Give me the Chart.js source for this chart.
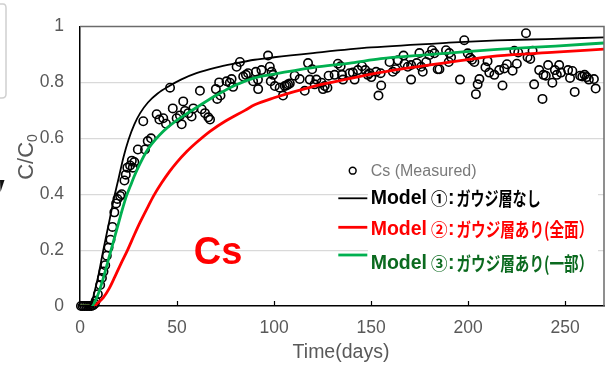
<!DOCTYPE html>
<html>
<head>
<meta charset="utf-8">
<script src="https://cdn.jsdelivr.net/npm/chart.js@4.4.1/dist/chart.umd.min.js"></script>
<style>
  html, body { margin: 0; padding: 0; background: #fff; }
  canvas { display: block; }
</style>
</head>
<body>
<canvas id="c" width="614" height="368"></canvas>
<script>
// Measured Cs breakthrough: elapsed time (days) and relative concentration C/C0
const measDays = [
  0.5, 1.4, 2.3, 3.2, 4.1, 5.0, 5.9, 6.8, 7.6,
  8.1, 9.2, 10.4, 11.3, 12.1, 13.0, 13.8, 14.7, 15.7, 16.7, 17.7, 18.6, 19.3, 20.7, 21.5,
  22.9, 23.6, 24.4, 25.8, 27.2, 26.7, 28.0, 29.8, 33.5, 34.9, 36.6, 32.6,
  46.4, 61.8, 47.8, 53.2, 39.5, 40.9, 42.9, 44.3, 49.8, 51.5, 54.1, 55.8, 57.5, 58.4, 52.4,
  62.7, 64.4, 66.1, 67.0, 70.0, 70.7, 72.4, 71.7, 75.5, 77.2, 78.9, 78.1, 80.7, 82.4, 84.1,
  85.5, 86.6, 89.2, 90.6, 91.8,
  96.9, 93.5, 91.7, 97.8, 98.7, 99.5, 98.3, 100.4, 102.9, 104.6, 105.5, 106.4, 107.2, 108.1,
  110.6, 113.2, 117.5, 119.6, 115.8, 118.4, 120.9, 121.8, 124.4, 126.1, 125.2, 127.5, 128.1,
  131.2, 132.9, 134.3, 135.0, 135.5, 138.9, 140.6, 141.5, 143.2, 145.3, 147.0, 148.3, 150.1,
  149.2, 152.6, 153.8, 155.2, 154.9,
  159.5, 161.2, 162.6, 163.8, 166.7, 167.2, 168.9, 170.6, 170.6, 173.5, 174.9, 175.8, 176.6,
  178.4, 180.0, 181.4, 182.6, 184.3, 185.2, 188.6, 190.3, 190.0, 191.2, 195.8, 198.0, 199.8,
  201.0, 202.0, 203.2, 204.0, 204.9, 205.8, 208.9, 210.0, 210.9, 213.5, 216.0,
  217.7, 218.6, 220.0, 222.9, 223.8, 225.1, 225.8, 229.8, 230.6, 232.0, 233.2, 234.0, 236.6,
  238.3, 238.8, 240.0, 241.2, 243.4, 244.7, 245.7, 246.9, 247.8, 251.5, 252.5, 253.7, 254.9,
  257.7, 258.8, 260.0, 261.1, 262.2, 264.8, 265.7
];
const measC = [
  0, 0, 0, 0, 0, 0, 0, 0.003, 0.008,
  0.019, 0.042, 0.075, 0.100, 0.123, 0.146, 0.180, 0.209, 0.237, 0.283, 0.335, 0.367, 0.383, 0.394, 0.400,
  0.449, 0.470, 0.495, 0.503, 0.495, 0.520, 0.515, 0.560, 0.560, 0.590, 0.600, 0.661,
  0.781, 0.770, 0.707, 0.732, 0.686, 0.667, 0.672, 0.652, 0.672, 0.682, 0.698, 0.690, 0.678, 0.707, 0.650,
  0.704, 0.690, 0.675, 0.667, 0.776, 0.741, 0.753, 0.800, 0.804, 0.799, 0.784, 0.812, 0.856, 0.873, 0.821,
  0.827, 0.833, 0.804, 0.838, 0.776,
  0.896, 0.844, 0.810, 0.856, 0.838, 0.827, 0.804, 0.787, 0.781, 0.753, 0.787, 0.789, 0.793, 0.796,
  0.824, 0.812, 0.869, 0.847, 0.770, 0.810, 0.793, 0.810, 0.799, 0.787, 0.776, 0.781, 0.824,
  0.827, 0.867, 0.858, 0.827, 0.810, 0.833, 0.835, 0.810, 0.844, 0.858, 0.844, 0.827, 0.819,
  0.833, 0.838, 0.753, 0.789, 0.833,
  0.873, 0.838, 0.847, 0.879, 0.896, 0.867, 0.856, 0.862, 0.810, 0.869, 0.905, 0.856, 0.838,
  0.873, 0.898, 0.915, 0.904, 0.847, 0.847, 0.915, 0.905, 0.873, 0.890, 0.810, 0.951, 0.904,
  0.888, 0.881, 0.873, 0.758, 0.793, 0.812, 0.854, 0.876, 0.835, 0.827, 0.844,
  0.789, 0.850, 0.865, 0.842, 0.913, 0.867, 0.907, 0.976, 0.890, 0.884, 0.913, 0.793, 0.844,
  0.741, 0.827, 0.824, 0.862, 0.799, 0.844, 0.827, 0.862, 0.835, 0.844, 0.816, 0.841, 0.766,
  0.824, 0.821, 0.827, 0.819, 0.810, 0.812, 0.778
];

// Model 1: no gouge layer
const model1Days = [0, 4.5, 6, 7, 9.5, 12, 15, 17.5, 20, 22.5, 25, 28, 31, 35, 40, 46, 52, 60, 70, 80, 90, 100, 120, 150, 190, 215, 240, 270];
const model1C    = [0, 0, 0.01, 0.037, 0.11, 0.2, 0.3, 0.385, 0.46, 0.535, 0.595, 0.65, 0.69, 0.728, 0.76, 0.787, 0.81, 0.833, 0.853, 0.868, 0.881, 0.89, 0.905, 0.925, 0.942, 0.95, 0.955, 0.961];

// Model 2: gouge layer over the whole face
const model2Days = [0, 7, 9, 12, 15, 18, 21, 24.5, 28, 31, 35, 38, 42, 46, 50, 55, 60, 67, 75, 85, 90, 100, 120, 140, 155, 190, 215, 245, 270];
const model2C    = [0, 0, 0.01, 0.03, 0.062, 0.105, 0.15, 0.2, 0.255, 0.3, 0.355, 0.395, 0.44, 0.48, 0.515, 0.553, 0.585, 0.625, 0.662, 0.7, 0.72, 0.745, 0.785, 0.815, 0.836, 0.872, 0.895, 0.908, 0.919];

// Model 3: gouge layer over part of the face
const model3Days = [0, 6, 8, 10, 12, 14, 16, 18, 20, 22, 24, 26, 28, 31, 34, 37, 41, 45, 50, 55, 60, 70, 80, 90, 100, 120, 140, 155, 175, 190, 215, 245, 270];
const model3C    = [0, 0, 0.02, 0.055, 0.1, 0.15, 0.2, 0.25, 0.3, 0.35, 0.395, 0.43, 0.465, 0.51, 0.55, 0.58, 0.612, 0.638, 0.665, 0.688, 0.71, 0.753, 0.79, 0.816, 0.83, 0.853, 0.87, 0.885, 0.897, 0.905, 0.918, 0.93, 0.941];

const xTicks = [0, 50, 100, 150, 200, 250];
const yTicks = [0, 0.2, 0.4, 0.6, 0.8, 1];
const yTickLabels = ['0', '0.2', '0.4', '0.6', '0.8', '1'];

const seriesLabels = [
  'Cs (Measured)',
  'Model ①: ガウジ層なし',
  'Model ②: ガウジ層あり(全面）',
  'Model ③: ガウジ層あり(一部）'
];

const toPoints = (xs, ys) => xs.map((x, i) => ({ x, y: ys[i] }));

const LATIN = "'Liberation Sans', Arial, sans-serif";
const CJK = "'Noto Sans CJK JP', sans-serif";
const AXIS_GREY = '#595959';

// Key drawn inside the plot area, built from the dataset labels and colours
function drawKey(chart) {
  const ctx = chart.ctx;
  const ds = chart.data.datasets;
  ctx.save();
  ctx.textBaseline = 'middle';
  ctx.textAlign = 'left';

  // measured marker + label
  ctx.beginPath();
  ctx.arc(352.7, 170.7, 3.4, 0, Math.PI * 2);
  ctx.lineWidth = 1.5;
  ctx.strokeStyle = '#000';
  ctx.stroke();
  ctx.fillStyle = ds[0].keyTextColor;
  ctx.font = '16px ' + LATIN;
  ctx.fillText(ds[0].label, 370.7, 171.5);

  const rows = [
    { line: 198.3, text: 198.8 },
    { line: 227.3, text: 230.0 },
    { line: 255.0, text: 264.0 }
  ];
  const ends = [540.7, 593.3, 593.3];
  for (let i = 1; i <= 3; i++) {
    const d = ds[i];
    const r = rows[i - 1];
    ctx.beginPath();
    ctx.moveTo(338.3, r.line);
    ctx.lineTo(367.3, r.line);
    ctx.lineWidth = d.borderWidth;
    ctx.strokeStyle = d.borderColor;
    ctx.stroke();

    const m = d.label.match(/^(Model )(.)(:) (.*)$/);
    ctx.fillStyle = d.keyTextColor;
    let cx = 370.7;
    ctx.font = 'bold 19.5px ' + LATIN;
    ctx.fillText(m[1], cx, r.text);
    cx += ctx.measureText(m[1]).width - 1.5;
    ctx.font = 'bold 16.5px ' + CJK;
    ctx.fillText(m[2], cx, r.text);
    cx += ctx.measureText(m[2]).width + 0.5;
    ctx.font = 'bold 19.5px ' + LATIN;
    ctx.fillText(m[3], cx, r.text);
    cx += ctx.measureText(m[3]).width + 2;
    ctx.font = 'bold 19px ' + CJK;
    const w = ctx.measureText(m[4]).width;
    const sx = (ends[i - 1] - cx) / w;
    ctx.save();
    ctx.translate(cx, r.text);
    ctx.scale(sx, 1);
    ctx.fillText(m[4], 0, 0);
    ctx.restore();
  }
  ctx.restore();
}

const decor = {
  id: 'decor',
  beforeDatasetsDraw(chart) {
    const ctx = chart.ctx;
    // white panel behind the key hides the grid lines there
    ctx.save();
    ctx.fillStyle = '#fff';
    ctx.fillRect(368, 158, 230, 126);
    ctx.restore();
  },
  afterDatasetsDraw(chart) {
    const { ctx, chartArea: a, scales } = chart;
    ctx.save();
    // top and right frame
    ctx.strokeStyle = '#6b6b6b';
    ctx.lineWidth = 1.5;
    ctx.beginPath();
    ctx.moveTo(a.left, a.top);
    ctx.lineTo(a.right, a.top);
    ctx.lineTo(a.right, a.bottom);
    ctx.stroke();
    // inward tick marks on the time axis
    ctx.strokeStyle = '#000';
    ctx.lineWidth = 1.2;
    xTicks.forEach(v => {
      if (v === 0) return;
      const px = Math.round(scales.x.getPixelForValue(v)) + 0.5;
      ctx.beginPath();
      ctx.moveTo(px, a.bottom);
      ctx.lineTo(px, a.bottom - 5);
      ctx.stroke();
    });
    ctx.restore();
  },
  afterDraw(chart) {
    const { ctx } = chart;
    drawKey(chart);
    ctx.save();
    // axis titles
    ctx.fillStyle = AXIS_GREY;
    ctx.textBaseline = 'middle';
    ctx.textAlign = 'center';
    ctx.font = '19.5px ' + LATIN;
    ctx.fillText('Time(days)', 341, 353);

    ctx.save();
    ctx.translate(27, 157);
    ctx.rotate(-Math.PI / 2);
    ctx.font = '22px ' + LATIN;
    const main = 'C/C';
    const wMain = ctx.measureText(main).width;
    ctx.font = '14px ' + LATIN;
    const wSub = ctx.measureText('0').width;
    const start = -(wMain + wSub) / 2;
    ctx.textAlign = 'left';
    ctx.font = '22px ' + LATIN;
    ctx.fillText(main, start, 0);
    ctx.font = '14px ' + LATIN;
    ctx.fillText('0', start + wMain, 6);
    ctx.restore();

    // element label
    ctx.fillStyle = '#ff0000';
    ctx.font = 'bold 38px ' + LATIN;
    ctx.textAlign = 'center';
    ctx.fillText('Cs', 218, 254);

    // edge of the neighbouring panel
    ctx.strokeStyle = '#d0d0d0';
    ctx.lineWidth = 1.5;
    ctx.beginPath();
    ctx.moveTo(0, 4);
    ctx.lineTo(3, 4);
    ctx.quadraticCurveTo(6, 4, 6, 8);
    ctx.lineTo(6, 94);
    ctx.quadraticCurveTo(6, 98, 2, 98);
    ctx.lineTo(0, 98);
    ctx.stroke();
    ctx.fillStyle = '#111';
    ctx.beginPath();
    ctx.moveTo(0, 180);
    ctx.lineTo(4.5, 180);
    ctx.lineTo(0.5, 192);
    ctx.closePath();
    ctx.fill();
    ctx.restore();
  }
};

new Chart(document.getElementById('c'), {
  type: 'scatter',
  data: {
    datasets: [
      {
        label: seriesLabels[0],
        data: toPoints(measDays, measC),
        showLine: false,
        pointStyle: 'circle',
        pointRadius: 4.2,
        pointBorderWidth: 1.6,
        pointBorderColor: '#000',
        pointBackgroundColor: 'rgba(0,0,0,0)',
        borderColor: '#000',
        keyTextColor: '#7a7a7a',
        clip: false,
        order: 10
      },
      {
        type: 'line',
        label: seriesLabels[1],
        data: toPoints(model1Days, model1C),
        borderColor: '#000000',
        borderWidth: 1.8,
        pointRadius: 0,
        fill: false,
        cubicInterpolationMode: 'monotone',
        keyTextColor: '#000000',
        order: 1
      },
      {
        type: 'line',
        label: seriesLabels[2],
        data: toPoints(model2Days, model2C),
        borderColor: '#ff0000',
        borderWidth: 2.8,
        pointRadius: 0,
        fill: false,
        cubicInterpolationMode: 'monotone',
        keyTextColor: '#ff0000',
        order: 3
      },
      {
        type: 'line',
        label: seriesLabels[3],
        data: toPoints(model3Days, model3C),
        borderColor: '#00b050',
        borderWidth: 2.8,
        pointRadius: 0,
        fill: false,
        cubicInterpolationMode: 'monotone',
        keyTextColor: '#0b6a1f',
        order: 2
      }
    ]
  },
  options: {
    responsive: false,
    animation: false,
    devicePixelRatio: 1,
    layout: { padding: { top: 15, right: 10, left: 0, bottom: 0 } },
    plugins: {
      legend: { display: false },
      tooltip: { enabled: false }
    },
    scales: {
      x: {
        type: 'linear',
        min: 0,
        max: 270,
        afterBuildTicks: s => { s.ticks = xTicks.map(v => ({ value: v })); },
        afterFit: s => { s.height = 62; },
        grid: { display: false, drawTicks: false },
        border: { display: true, color: '#000', width: 1.5 },
        ticks: {
          color: AXIS_GREY,
          font: { family: LATIN, size: 17.5 },
          padding: 12,
          maxRotation: 0,
          callback: v => String(v)
        }
      },
      y: {
        type: 'linear',
        min: 0,
        max: 1,
        afterBuildTicks: s => { s.ticks = yTicks.map(v => ({ value: v })); },
        afterFit: s => { s.width = 80; },
        grid: {
          drawTicks: false,
          color: ctx => (ctx.tick && (ctx.tick.value === 0 || ctx.tick.value === 1)) ? 'rgba(0,0,0,0)' : '#d9d9d9',
          lineWidth: 1.2
        },
        border: { display: true, color: '#000', width: 1.5 },
        ticks: {
          color: AXIS_GREY,
          font: { family: LATIN, size: 17.5 },
          padding: 16,
          callback: (v, i) => yTickLabels[yTicks.indexOf(v)] ?? String(v)
        }
      }
    }
  },
  plugins: [decor]
});
</script>
</body>
</html>
